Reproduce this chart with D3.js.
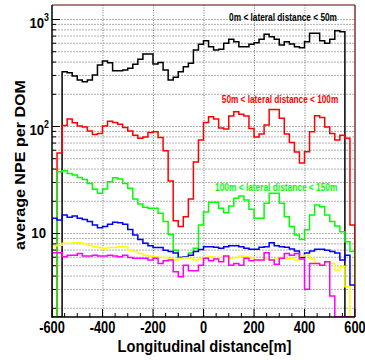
<!DOCTYPE html>
<html><head><meta charset="utf-8">
<script src="https://cdn.jsdelivr.net/npm/d3@7"></script>
<style>body{margin:0;background:#fff}svg{display:block}text{font-family:"Liberation Sans",Arial,sans-serif;font-weight:bold}</style>
</head><body>
<script>
// ---- data ----
const binStart = -600, binWidth = 20; // 60 bins from -600 to 600 m
const npeLat0to50 = [0,0,321,315,293,269,259,269,300,371,405,391,329,329,333,346,378,420,471,471,380,393,333,269,285,321,358,385,513,580,627,551,513,521,593,646,614,551,551,580,601,646,719,684,646,572,614,584,551,540,614,735,735,627,593,646,778,762,0,0];
const npeLat50to100 = [0,56,101,116,107,100,98,90,83.5,85,100,111,108,104,97,90,82,77,79,87,88.5,78,58.7,30.6,13,11.5,14.2,20.8,46,74,108,122,116,96,94,124,136,129,124,95,79,84,102,143,143,118,84,70,57,45,57.5,88.5,125,120,98,85,74,82,77,11.9];
const npeLat100to150 = [0,37.4,38.2,36,34.8,33,31.7,29,25.6,23.5,25.8,30.2,32.9,32,29,26.2,20.8,18.7,17.4,17,17,15.3,12.8,9.7,6.9,5.9,5.9,6.5,7.2,11.9,15.7,19.4,19.4,17,15.5,17.9,21.1,22.2,20.3,16.7,13.7,13.7,19,23.5,23.5,19,14.2,11.5,9.6,8.7,10.7,14.7,18.3,17.6,14.7,12.8,11.6,10.3,8.3,6.7];
const npeLat150to200 = [13.7,13.2,14.7,14,14.4,13.7,13.4,12.8,11.9,11.2,11.5,12.1,12.6,12.5,12.1,10.8,9.6,8.7,8.0,7.6,7.3,7.3,6.9,6.7,6.5,5.9,6.0,6.2,6.7,7.0,7.45,7.45,7.35,7.2,7.45,7.6,7.6,7.45,7.2,7.05,7.05,7.35,7.45,8.1,7.6,7.45,7.35,7.1,6.8,5.9,6.5,6.8,7.05,7.05,6.9,6.7,6.5,5.6,6.2,3.27];
const npeLat200to250 = [7.6,7.7,8.0,8.0,8.1,8.1,7.9,7.7,7.45,7.3,7.2,7.3,7.3,7.45,7.45,6.9,6.7,6.45,6.2,6.1,6.0,5.9,5.9,5.7,5.6,5.8,5.9,5.8,5.6,5.7,5.9,6.0,5.8,5.9,6.1,5.8,5.9,6.1,6.0,5.8,5.6,5.5,5.7,5.6,5.7,5.9,5.7,5.8,5.6,6.1,6.2,5.7,5.2,5.0,5.4,5.2,4.5,4.9,3.15,0];
const npeLat250to300 = [6.55,6.55,6.0,6.2,6.2,6.45,6.1,6.1,6.2,6.1,6.1,6.2,6.1,6.0,6.2,5.9,5.8,5.8,5.8,5.6,5.8,5.2,5.5,5.6,4.35,3.9,5.0,4.45,4.45,5.0,5.8,5.5,5.7,5.4,6.1,5.0,5.2,5.0,5.8,5.5,5.6,5.6,6.55,5.6,5.1,5.8,6.45,6.2,6.45,5.7,2.98,5.2,5.2,5.0,5.4,2.58,0,0,0,0];
const seriesColors = ["#000000","#ff0000","#00ff00","#0000ff","#ffff00","#ff00ff"];
const seriesList = [npeLat0to50,npeLat50to100,npeLat100to150,npeLat150to200,npeLat200to250,npeLat250to300];
const labelTexts = ["0m < lateral distance < 50m","50m < lateral distance < 100m","100m < lateral distance < 150m"];
const xTickValues = [-600,-400,-200,0,200,400,600];
const yTickValues = [10,100,1000];
const yTickExponents = ["","2","3"];
const xTitle = "Longitudinal distance[m]";
const yTitle = "average NPE per DOM";

// ---- layout ----
const W=365,H=360, L=52, R=355, T=5, B=317;
const svg=d3.select("body").append("svg").attr("width",W).attr("height",H);
const x=d3.scaleLinear().domain([-600,600]).range([L,R]);
const y=d3.scaleLog().domain([Math.pow(10,1-84/107),Math.pow(10,3+14/107)]).range([B,T]).clamp(true);
const yy=v=> (v>0? y(v): B);

svg.append("defs").append("clipPath").attr("id","clip").append("rect").attr("x",L).attr("y",T).attr("width",R-L).attr("height",B-T);

// grid
const minorY=[];
for(let d=1; d<=1000; d*=10){ for(let k=1;k<10;k++){ const v=k*d; if(v>=2 && v<=1000) minorY.push(v);} }
const grid=svg.append("g");
grid.selectAll("line.h").data(minorY).join("line").attr("class","h")
  .attr("x1",L).attr("x2",R).attr("y1",d=>y(d)+0.5).attr("y2",d=>y(d)+0.5)
  .attr("stroke","#b0b0b0").attr("stroke-width",1).attr("stroke-dasharray","2,1");
grid.selectAll("line.v").data(xTickValues.slice(1,-1)).join("line").attr("class","v")
  .attr("x1",d=>x(d)+0.5).attr("x2",d=>x(d)+0.5).attr("y1",T).attr("y2",B)
  .attr("stroke","#777").attr("stroke-width",1).attr("stroke-dasharray","1,1.5");

// histograms
const plot=svg.append("g").attr("clip-path","url(#clip)");
const line=d3.line();
seriesList.forEach((vals,si)=>{
  const pts=[[x(binStart),B]];
  vals.forEach((v,i)=>{ const lo=binStart+i*binWidth, hi=lo+binWidth; pts.push([x(lo),yy(v)],[x(hi),yy(v)]); });
  pts.push([x(binStart+vals.length*binWidth),B]);
  plot.append("path").attr("d",line(pts)).attr("fill","none").attr("stroke",seriesColors[si]).attr("stroke-width",1.5);
});

// axes ticks (inward)
const ax=svg.append("g").attr("stroke","#000").attr("stroke-width",1);
const xMinor=d3.range(-600,601,50);
ax.selectAll("line.xt").data(xMinor).join("line").attr("class","xt")
  .attr("x1",d=>x(d)).attr("x2",d=>x(d)).attr("y1",B).attr("y2",d=>B-(d%200===0?8:4));
ax.selectAll("line.yt").data(minorY.concat([1000])).join("line").attr("class","yt")
  .attr("y1",d=>y(d)+0.5).attr("y2",d=>y(d)+0.5).attr("x1",L).attr("x2",d=>L+(yTickValues.includes(d)?8:4));
// frame
svg.append("line").attr("x1",L).attr("x2",L).attr("y1",T).attr("y2",B+0.8).attr("stroke","#000").attr("stroke-width",1.5);
svg.append("line").attr("x1",L).attr("x2",R).attr("y1",B).attr("y2",B).attr("stroke","#000").attr("stroke-width",1.5);
svg.append("line").attr("x1",L).attr("x2",R).attr("y1",T).attr("y2",T).attr("stroke","#600000").attr("stroke-width",1.2);
svg.append("line").attr("x1",R).attr("x2",R).attr("y1",T).attr("y2",B).attr("stroke","#600000").attr("stroke-width",1.2);

// helper: squeeze a text horizontally to a target width
function fitText(sel, tx, ty, target, rot){
  const len = sel.node().getComputedTextLength();
  const s = target/len;
  sel.attr("transform", rot ? `translate(${tx},${ty}) scale(1,${s}) rotate(-90)` : `translate(${tx},${ty}) scale(${s},1)`);
}

// x tick labels
svg.selectAll("text.xl").data(xTickValues).join("text").attr("class","xl")
  .attr("transform",d=>`translate(${x(d)},333) scale(0.8,1)`)
  .attr("text-anchor","middle").attr("font-size",16).text(d=>d);
// y tick labels
yTickValues.forEach((v,i)=>{
  const e=yTickExponents[i];
  const t=svg.append("text").attr("text-anchor","end")
    .attr("transform", e? `translate(49,${y(v)+9.3}) scale(0.88,1)` : `translate(46,${y(v)+5.3}) scale(0.88,1)`);
  t.append("tspan").attr("font-size",15).text("10");
  if(e) t.append("tspan").attr("font-size",10).attr("dy",-7).text(e);
});
// titles
const xt=svg.append("text").attr("text-anchor","middle").attr("font-size",16).text(xTitle);
fitText(xt,204.5,351.5,174,false);
const ytEl=svg.append("text").attr("text-anchor","middle").attr("font-size",16).text(yTitle);
{ const len=ytEl.node().getComputedTextLength();
  ytEl.attr("transform",`translate(25,165) scale(0.87,${170/len}) rotate(-90)`); }
// series labels (right-aligned)
const labelPos=[[337,20.5,108],[338.3,103,116.6],[337.3,190.5,122.3]];
labelTexts.forEach((s,i)=>{
  const p=labelPos[i];
  const t=svg.append("text").attr("text-anchor","end").attr("font-size",11).attr("fill",seriesColors[i]).text(s);
  fitText(t,p[0],p[1],p[2],false);
});
</script>
</body></html>
